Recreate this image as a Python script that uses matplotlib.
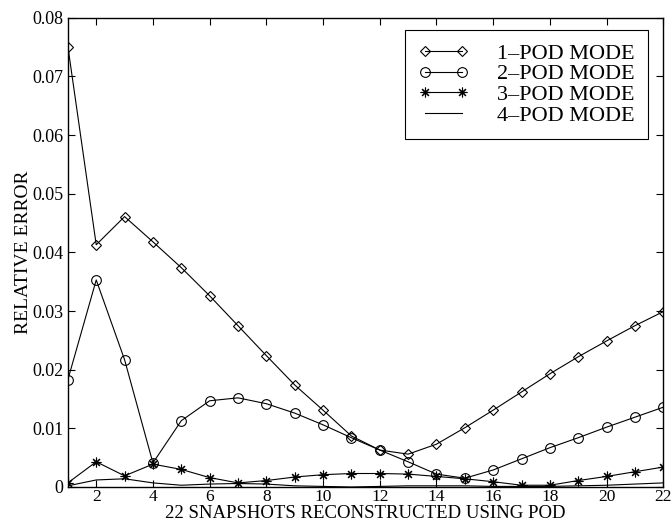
import numpy as np
import matplotlib.pyplot as plt

plt.rcParams['font.family'] = ['Liberation Serif', 'DejaVu Serif']

snapshots = np.arange(1, 23)

err_1pod = [0.0751, 0.0413, 0.0461, 0.0418, 0.0374, 0.0326, 0.0275, 0.0224,
            0.0174, 0.0131, 0.0087, 0.0063, 0.0056, 0.0073, 0.0101, 0.0131,
            0.0162, 0.0193, 0.0222, 0.0249, 0.0275, 0.0299]
err_2pod = [0.0183, 0.0353, 0.0217, 0.0041, 0.0113, 0.0147, 0.0152, 0.0142,
            0.0126, 0.0106, 0.0084, 0.0063, 0.0043, 0.0022, 0.0015, 0.0029,
            0.0048, 0.0067, 0.0084, 0.0102, 0.0119, 0.0136]
err_3pod = [0.0007, 0.0043, 0.0019, 0.0039, 0.0030, 0.0016, 0.0007, 0.0011,
            0.0017, 0.0021, 0.0023, 0.0023, 0.0022, 0.0018, 0.0014, 0.0009,
            0.0003, 0.0003, 0.0011, 0.0018, 0.0026, 0.0034]
err_4pod = [0.0002, 0.0012, 0.0014, 0.0007, 0.0003, 0.0005, 0.0006, 0.0005,
            0.0002, 0.0001, 0.0000, 0.0001, 0.0002, 0.0002, 0.0002, 0.0001,
            0.0001, 0.0001, 0.0002, 0.0003, 0.0005, 0.0007]

fig = plt.figure(figsize=(6.72, 5.29), dpi=100)
ax = fig.add_axes([0.101, 0.0794, 0.886, 0.887])

lw = 0.8
ax.plot(snapshots, err_1pod, '-', marker='D', markersize=5.5, mfc='none', mec='k',
        color='k', lw=lw, mew=0.8, label='1\u2013POD MODE')
ax.plot(snapshots, err_2pod, '-', marker='o', markersize=7, mfc='none', mec='k',
        color='k', lw=lw, mew=0.8, label='2\u2013POD MODE')
ax.plot(snapshots, err_3pod, '-', marker=(8, 2, 0), markersize=7, mfc='k', mec='k',
        color='k', lw=lw, mew=0.8, label='3\u2013POD MODE')
ax.plot(snapshots, err_4pod, '-', color='k', lw=lw, label='4\u2013POD MODE')

ax.set_xlim(1, 22)
ax.set_ylim(0, 0.08)
ax.set_xticks(np.arange(2, 23, 2))
ax.set_yticks(np.arange(0, 0.081, 0.01))
ax.set_yticklabels(['0', '0.01', '0.02', '0.03', '0.04', '0.05', '0.06', '0.07', '0.08'])
ax.tick_params(direction='in', top=True, right=True, labelsize=13, length=5, width=0.8, pad=3)
ax.tick_params(axis='x', labelsize=12.5, pad=1.5)
for s in ax.spines.values():
    s.set_linewidth(1.0)

ax.set_xlabel('22 SNAPSHOTS RECONSTRUCTED USING POD', fontsize=13.5, labelpad=0)
ax.set_ylabel('RELATIVE ERROR', fontsize=14, labelpad=0)

leg = ax.legend(loc='upper right', fontsize=16, numpoints=2, handlelength=2.25,
                fancybox=False, edgecolor='k', framealpha=1, borderpad=0.6,
                labelspacing=0.0, handletextpad=1.3, borderaxespad=0,
                bbox_to_anchor=(0.975, 0.974))
leg.get_frame().set_linewidth(0.8)

fig.savefig('out.png', dpi=100)
